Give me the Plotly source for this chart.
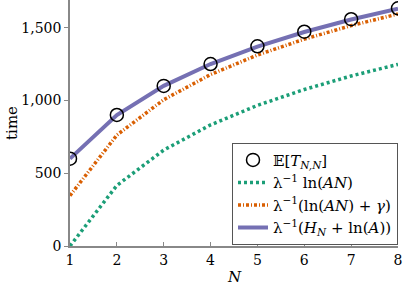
import plotly.graph_objects as go

N = [1, 2, 3, 4, 5, 6, 7, 8]
expected_T = [600, 900, 1100, 1250, 1372, 1472, 1558, 1633]
approx_ln = [0, 416, 659, 832, 966, 1075, 1168, 1248]
approx_ln_gamma = [346, 762, 1005, 1178, 1312, 1421, 1514, 1594]
approx_harmonic = [600, 900, 1100, 1250, 1370, 1470, 1556, 1631]

names = [
    "𝔼[<i>T</i><sub><i>N,N</i></sub>]",
    "λ<sup>−1</sup> ln(<i>AN</i>)",
    "λ<sup>−1</sup>(ln(<i>AN</i>) + <i>γ</i>)",
    "λ<sup>−1</sup>(<i>H</i><sub><i>N</i></sub> + ln(<i>A</i>))",
]

FONT = "DejaVu Serif"

fig = go.Figure()
fig.add_trace(go.Scatter(x=N, y=approx_ln, mode="lines", name=names[1],
                         line=dict(color="#1b9e77", width=3.5, dash="3px,3px"), legendrank=2))
fig.add_trace(go.Scatter(x=N, y=approx_ln_gamma, mode="lines", name=names[2],
                         line=dict(color="#d95f02", width=3.5, dash="3px,2px,1px,2px"), legendrank=3))
fig.add_trace(go.Scatter(x=N, y=approx_harmonic, mode="lines", name=names[3],
                         line=dict(color="#7570b3", width=4), legendrank=4))
fig.add_trace(go.Scatter(x=N, y=expected_T, mode="markers", name=names[0],
                         marker=dict(symbol="circle-open", size=13, color="black",
                                     line=dict(width=1.5, color="black")), legendrank=1))

fig.update_layout(
    width=407, height=288,
    margin=dict(l=70, r=9, t=0, b=42, autoexpand=False),
    plot_bgcolor="white", paper_bgcolor="white",
    font=dict(family=FONT, size=14, color="black"),
    showlegend=True,
    legend=dict(x=1.0, y=0.42, xanchor="right", yanchor="top",
                bordercolor="#555555", borderwidth=1, bgcolor="white",
                font=dict(family=FONT, size=15), tracegroupgap=0,
                itemwidth=30),
    annotations=[
        dict(text="<i>N</i>", xref="paper", yref="paper", x=0.5, y=-0.125,
             xanchor="center", yanchor="middle", showarrow=False,
             font=dict(family=FONT, size=15)),
        dict(text="time", xref="paper", yref="paper", x=-0.177, y=0.5,
             xanchor="center", yanchor="middle", showarrow=False, textangle=-90,
             font=dict(family=FONT, size=15)),
    ],
)
fig.update_xaxes(range=[1, 8], tickvals=N, showgrid=False, zeroline=False,
                 showline=True, linecolor="#888888", linewidth=1.5,
                 ticks="inside", ticklen=4, tickcolor="#888888",
                 automargin=False, tickfont=dict(size=14))
fig.update_yaxes(range=[0, 1690], tickvals=[0, 500, 1000, 1500], tickformat=",",
                 showgrid=False, zeroline=False,
                 showline=True, linecolor="#888888", linewidth=1.5,
                 ticks="outside", ticklen=4, tickcolor="#888888",
                 automargin=False, tickfont=dict(size=14))

fig.write_html("out.html", config={"displayModeBar": False},
               post_script="document.body.style.margin='0';document.body.style.padding='0';")
